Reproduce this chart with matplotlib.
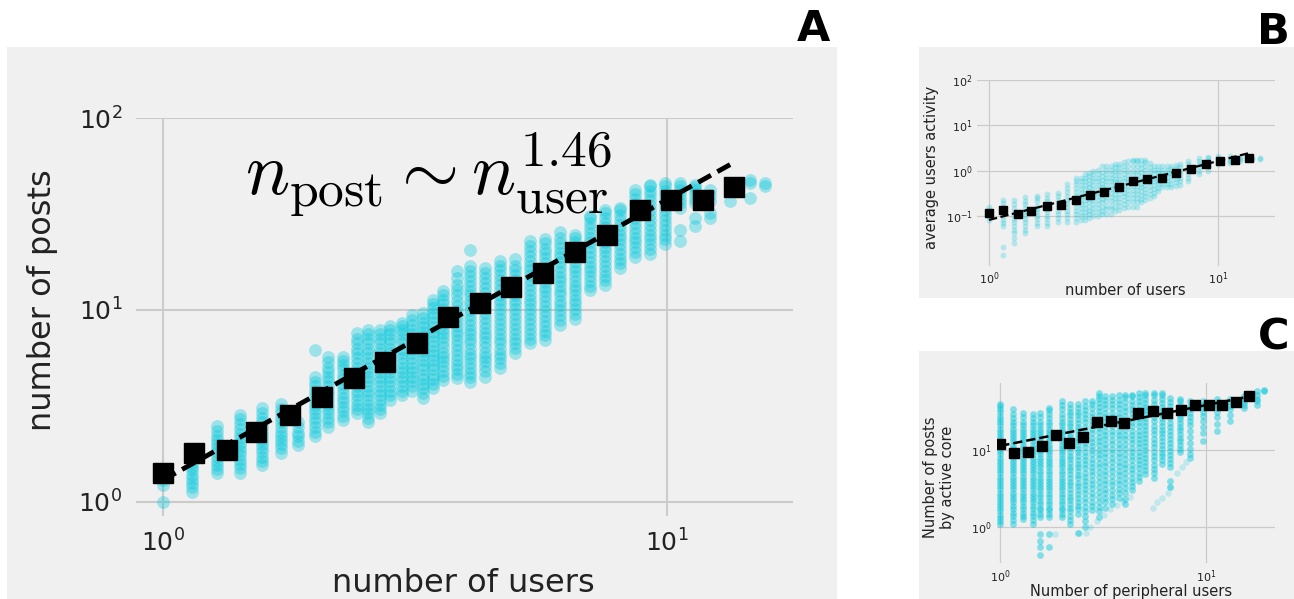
import numpy as np
import matplotlib
matplotlib.use('Agg')
import matplotlib.pyplot as plt
from matplotlib.patches import Rectangle
from matplotlib.ticker import NullLocator

# ---------------- data ----------------
# Panel A: scatter columns (number of users -> number of posts)
a_cols_x = [1.0, 1.142, 1.280, 1.422, 1.572, 1.714, 1.853, 2.002, 2.125, 2.276, 2.427, 2.551,
            2.695, 2.821, 2.980, 3.119, 3.281, 3.434, 3.594, 3.831, 4.065, 4.355, 4.664, 4.994,
            5.348, 5.727, 6.133, 6.568, 7.034, 7.533, 8.067, 8.640, 9.253, 9.909, 10.61, 11.37,
            12.17, 13.34, 14.61, 15.64]
a_cols_y = [
    [1.0, 1.22, 1.3, 1.36],
    [1.13, 1.19, 1.25, 1.32, 1.39, 1.46, 1.53, 1.6],
    [1.42, 1.49, 1.56, 1.64, 1.72, 1.81, 1.9, 2.0, 2.1, 2.2, 2.35, 2.5],
    [1.42, 1.5, 1.58, 1.66, 1.75, 1.84, 1.94, 2.04, 2.15, 2.27, 2.4, 2.55, 2.7, 2.85],
    [1.56, 1.64, 1.72, 1.81, 1.9, 2.0, 2.1, 2.2, 2.32, 2.45, 2.6, 2.75, 2.9, 3.1],
    [1.8, 1.9, 2.0, 2.1, 2.2, 2.32, 2.45, 2.6, 2.75, 2.9, 3.05, 3.25],
    [1.98, 2.08, 2.2, 2.3, 2.45, 2.6],
    [2.2, 2.32, 2.45, 2.6, 2.75, 2.9, 3.05, 3.2, 3.4, 3.6, 3.8, 4.0, 4.2, 4.5, 6.2],
    [2.45, 2.6, 2.75, 2.9, 3.05, 3.2, 3.4, 3.6, 3.8, 4.0, 4.25, 4.5, 4.75, 5.0, 5.35, 5.7],
    [2.67, 2.82, 2.97, 3.13, 3.3, 3.5, 3.7, 3.9, 4.1, 4.35, 4.6, 4.9, 5.2, 5.45, 5.7],
    [2.9, 3.05, 3.2, 3.4, 3.6, 3.8, 4.0, 4.25, 4.5, 4.75, 5.0, 5.3, 5.6, 5.95, 6.3, 6.7, 7.1,
     7.6],
    [2.6, 2.75, 2.9, 3.05, 3.2, 3.4, 3.6, 3.8, 4.0, 4.25, 4.5, 4.75, 5.0, 5.3, 5.6, 5.95, 6.3,
     6.7, 7.1, 7.5, 7.9],
    [2.9, 3.05, 3.2, 3.4, 3.6, 3.8, 4.0, 4.25, 4.5, 4.75, 5.0, 5.3, 5.6, 5.95, 6.3, 6.7, 7.1,
     7.5, 7.9],
    [3.4, 3.6, 3.8, 4.0, 4.25, 4.5, 4.75, 5.0, 5.3, 5.6, 5.95, 6.3, 6.7, 7.1, 7.5, 7.9, 8.3],
    [3.6, 3.8, 4.0, 4.25, 4.5, 4.75, 5.0, 5.3, 5.6, 5.95, 6.3, 6.7, 7.1, 7.5, 7.9, 8.3, 8.6],
    [3.8, 4.0, 4.25, 4.5, 4.75, 5.0, 5.3, 5.6, 5.95, 6.3, 6.7, 7.1, 7.5, 7.9, 8.4, 8.9, 9.4],
    [3.5, 3.7, 3.9, 4.1, 4.35, 4.6, 4.9, 5.2, 5.5, 5.8, 6.1, 6.5, 6.9, 7.3, 7.7, 8.2, 8.6, 9.1,
     9.6],
    [3.9, 4.1, 4.35, 4.6, 4.9, 5.2, 5.5, 5.8, 6.1, 6.5, 6.9, 7.3, 7.7, 8.2, 8.7, 9.2, 9.7,
     10.2, 10.7, 11.3],
    [4.3, 4.55, 4.8, 5.1, 5.4, 5.7, 6.0, 6.4, 6.8, 7.2, 7.6, 8.0, 8.5, 9.0, 9.5, 10.1, 10.7,
     11.3, 11.9, 12.5],
    [4.4, 4.65, 4.9, 5.2, 5.5, 5.8, 6.2, 6.6, 7.0, 7.4, 7.8, 8.3, 8.8, 9.3, 9.9, 10.5, 11.2,
     11.9, 12.7, 13.5, 14.6, 16.0],
    [4.2, 4.45, 4.7, 5.0, 5.3, 5.6, 5.9, 6.3, 6.7, 7.1, 7.5, 7.9, 8.4, 8.9, 9.4, 10.0, 10.6,
     11.2, 11.9, 12.6, 13.3, 14.1, 15.0, 16.0, 17.0, 20.5],
    [4.5, 4.8, 5.1, 5.4, 5.7, 6.0, 6.4, 6.8, 7.2, 7.6, 8.1, 8.6, 9.1, 9.7, 10.3, 10.9, 11.6,
     12.3, 13.0, 13.8, 14.6, 15.5, 16.5],
    [5.0, 5.3, 5.6, 5.9, 6.3, 6.7, 7.1, 7.5, 8.0, 8.5, 9.0, 9.5, 10.1, 10.7, 11.3, 12.0, 12.7,
     13.5, 14.3, 15.2, 16.1, 17.0, 18.0],
    [6.0, 6.35, 6.7, 7.1, 7.5, 8.0, 8.5, 9.0, 9.5, 10.1, 10.7, 11.3, 12.0, 12.7, 13.5, 14.3,
     15.2, 16.1, 17.0, 18.5],
    [6.7, 7.1, 7.5, 8.0, 8.5, 9.0, 9.5, 10.1, 10.7, 11.3, 12.0, 12.7, 13.5, 14.3, 15.2, 16.1,
     17.0, 18.0, 19.1, 20.2, 21.5, 23.0],
    [7.0, 7.4, 7.8, 8.3, 8.8, 9.3, 9.9, 10.5, 11.1, 11.8, 12.5, 13.2, 14.0, 14.8, 15.7, 16.6,
     17.6, 18.6, 19.7, 20.9, 22.2, 23.5],
    [8.4, 8.9, 9.4, 10.0, 10.6, 11.2, 11.9, 12.6, 13.3, 14.1, 14.9, 15.8, 16.7, 17.7, 18.8,
     19.9, 21.1, 22.4, 23.8, 25.5],
    [9.0, 9.5, 10.1, 10.7, 11.3, 12.0, 12.7, 13.4, 14.2, 15.0, 15.9, 16.8, 17.8, 18.9, 20.0,
     21.2, 22.5, 23.8, 24.5],
    [12.7, 13.4, 14.2, 15.0, 15.9, 16.8, 17.8, 18.9, 20.0, 21.2, 22.5, 23.8, 25.2, 26.7, 28.3,
     30.0, 31.0],
    [13.5, 14.3, 15.1, 16.0, 17.0, 18.0, 19.1, 20.2, 21.4, 22.7, 24.0, 25.4, 26.9, 28.5, 30.2,
     32.0, 33.0],
    [16.5, 17.5, 18.5, 19.6, 20.8, 22.0, 23.3, 24.7, 26.2, 27.7, 29.4, 31.1, 33.0, 34.0],
    [18.9, 20.0, 21.2, 22.5, 23.8, 25.2, 26.7, 28.3, 30.0, 31.8, 33.7, 35.7, 37.8, 40.0, 42.0],
    [19.5, 20.7, 22.0, 23.3, 24.7, 26.2, 27.8, 29.5, 31.3, 33.2, 35.2, 37.3, 39.5, 41.9, 44.4,
     45.0],
    [22.0, 23.3, 24.7, 26.2, 27.8, 29.5, 31.3, 33.2, 35.2, 37.3, 39.5, 41.9, 44.4, 46.0],
    [23.0, 26.0, 34.0, 36.0, 38.0, 40.0, 42.0, 44.0, 46.0],
    [27.5, 30.0, 36.0, 38.0, 40.0, 42.0, 43.5, 45.0],
    [30.0, 32.0, 37.0, 39.5, 42.0],
    [37.0],
    [38.3, 45.7, 47.5],
    [45.7, 44.0],
]
# binned averages (shared x bins)
bin_x = [1.0, 1.15, 1.34, 1.53, 1.79, 2.07, 2.39, 2.76, 3.19, 3.68, 4.26, 4.90, 5.69,
         6.57, 7.62, 8.84, 10.2, 11.8, 13.6]
a_bin_y = [1.41, 1.80, 1.87, 2.31, 2.84, 3.52, 4.42, 5.36, 6.7, 9.2, 10.9, 13.2, 15.6,
           20.0, 24.6, 33.2, 37.4, 37.4, 43.7]
a_fit_coef, a_fit_exp = 1.3, 1.46
a_fit_range = [1.0, 13.6]

# Panel B: average users activity
b_cols_x = [1.0, 1.155, 1.286, 1.436, 1.621, 1.798, 2.001, 2.198, 2.399, 2.507, 2.617, 2.735,
            2.855, 2.98, 3.105, 3.25, 3.399, 3.545, 3.695, 3.87, 4.059, 4.23, 4.414, 4.6,
            4.800, 5.02, 5.237, 5.47, 5.712, 5.97, 6.233, 6.52, 6.824, 7.421, 8.206,
            9.013, 10.03, 11.28, 12.48, 14.03, 15.26]
b_cols_y = [
    [0.082, 0.097, 0.114, 0.135, 0.159],
    [0.014, 0.021, 0.059, 0.07, 0.083, 0.098, 0.115, 0.136, 0.16, 0.19, 0.22],
    [0.026, 0.033, 0.042, 0.05, 0.06, 0.072, 0.087, 0.104, 0.125, 0.15, 0.18, 0.22],
    [0.042, 0.05, 0.06, 0.072, 0.087, 0.104, 0.125, 0.15, 0.18, 0.21, 0.26],
    [0.059, 0.07, 0.085, 0.1, 0.12, 0.145, 0.17, 0.21, 0.25, 0.28],
    [0.059, 0.07, 0.085, 0.1, 0.12, 0.145, 0.17, 0.21, 0.25, 0.3],
    [0.075, 0.09, 0.11, 0.13, 0.16, 0.19, 0.23, 0.28, 0.33],
    [0.075, 0.09, 0.11, 0.13, 0.16, 0.19, 0.23, 0.28, 0.34, 0.41, 0.5],
    [0.075, 0.09, 0.11, 0.13, 0.16, 0.19, 0.23, 0.28, 0.34, 0.41, 0.5, 0.6, 0.7],
    [0.08, 0.1, 0.12, 0.15, 0.18, 0.22, 0.27, 0.33, 0.4, 0.48, 0.58, 0.7],
    [0.08, 0.1, 0.12, 0.15, 0.18, 0.22, 0.27, 0.33, 0.4, 0.48, 0.58, 0.7, 0.83],
    [0.09, 0.11, 0.13, 0.16, 0.2, 0.24, 0.29, 0.35, 0.43, 0.52, 0.63, 0.77, 0.9],
    [0.1, 0.12, 0.15, 0.18, 0.22, 0.27, 0.33, 0.4, 0.48, 0.58, 0.7, 0.85, 1.0],
    [0.1, 0.12, 0.15, 0.18, 0.22, 0.27, 0.33, 0.4, 0.48, 0.58, 0.7, 0.85, 1.05],
    [0.11, 0.13, 0.16, 0.2, 0.24, 0.29, 0.35, 0.43, 0.52, 0.63, 0.77, 0.93, 1.25],
    [0.11, 0.14, 0.17, 0.21, 0.26, 0.32, 0.39, 0.48, 0.58, 0.7, 0.85, 1.05, 1.25],
    [0.11, 0.14, 0.17, 0.21, 0.26, 0.32, 0.39, 0.48, 0.58, 0.7, 0.85, 1.05, 1.3],
    [0.13, 0.16, 0.2, 0.25, 0.3, 0.37, 0.45, 0.55, 0.67, 0.82, 1.0, 1.2, 1.4],
    [0.135, 0.165, 0.2, 0.25, 0.3, 0.37, 0.45, 0.55, 0.67, 0.82, 1.0, 1.2, 1.4],
    [0.15, 0.18, 0.22, 0.27, 0.33, 0.4, 0.48, 0.58, 0.7, 0.85, 1.05, 1.3, 1.55],
    [0.16, 0.2, 0.25, 0.3, 0.37, 0.45, 0.55, 0.67, 0.82, 1.0, 1.3, 1.6],
    [0.16, 0.2, 0.25, 0.3, 0.37, 0.45, 0.55, 0.67, 0.82, 1.0, 1.3, 1.6, 1.7],
    [0.16, 0.2, 0.25, 0.3, 0.37, 0.45, 0.55, 0.67, 0.82, 1.0, 1.3, 1.6, 1.76],
    [0.2, 0.24, 0.29, 0.35, 0.43, 0.52, 0.63, 0.77, 0.93, 1.15, 1.4, 1.7],
    [0.22, 0.27, 0.33, 0.4, 0.48, 0.58, 0.7, 0.85, 1.05, 1.3, 1.55, 1.76],
    [0.25, 0.3, 0.37, 0.45, 0.55, 0.67, 0.82, 1.0, 1.2, 1.45],
    [0.27, 0.33, 0.4, 0.48, 0.58, 0.7, 0.85, 1.05, 1.3],
    [0.35, 0.42, 0.5, 0.6, 0.72, 0.87, 1.05, 1.3],
    [0.43, 0.5, 0.6, 0.72, 0.87, 1.05, 1.3],
    [0.43, 0.5, 0.6, 0.72, 0.87, 1.05, 1.25],
    [0.43, 0.52, 0.62, 0.75, 0.9, 1.1, 1.3],
    [0.45, 0.55, 0.66, 0.8, 0.95, 1.15, 1.35],
    [0.48, 0.58, 0.7, 0.85, 1.0, 1.2, 1.4],
    [0.6, 0.7, 0.85, 1.0, 1.2, 1.4, 1.6],
    [0.83, 1.0, 1.2, 1.4, 1.65, 1.9],
    [1.0, 1.2, 1.4, 1.65, 1.9, 2.0],
    [1.37, 1.55, 1.75, 1.95, 2.15],
    [1.45, 1.65, 1.85, 2.1],
    [1.65, 1.85, 2.0],
    [1.8, 1.95],
    [1.85, 1.95],
]
b_bin_y = [0.118, 0.135, 0.110, 0.128, 0.167, 0.173, 0.229, 0.284, 0.335, 0.430, 0.598,
           0.672, 0.706, 0.875, 1.07, 1.42, 1.62, 1.76, 1.91]
b_fit_coef, b_fit_exp = 0.082, 1.30
b_fit_range = [1.0, 13.6]

# Panel C: posts by active core vs peripheral users
c_cols_x = [1.0, 1.148, 1.288, 1.435, 1.563, 1.716, 1.993, 2.186, 2.375, 2.585, 2.785, 3.0,
            3.23, 3.49, 3.76, 4.05, 4.36, 4.70, 5.06, 5.55, 6.09, 6.69, 7.47, 8.37, 9.7,
            11.3, 13.1, 15.2, 17.6, 19.0]
c_cols_y = [
    [1.1, 1.2, 1.32, 1.45, 1.6, 1.75, 1.92, 2.1, 2.3, 2.55, 2.8, 3.1, 3.4, 3.75, 4.1, 4.5, 5.0,
     5.5, 6.0, 6.6, 7.3, 8.0, 8.8, 9.7, 10.7, 11.8, 13, 14.3, 15.7, 17.3, 19, 21, 23, 25.5, 28,
     31, 34, 37.5, 39.4],
    [1.1, 1.25, 1.4, 1.55, 1.7, 1.9, 2.1, 2.3, 2.55, 2.8, 3.1, 3.4, 3.75, 4.1, 4.5, 5.0, 5.5,
     6.0, 6.6, 7.3, 8.0, 8.8, 9.7, 10.7, 11.8, 13, 14.3, 15.7, 17.3, 19, 21, 23, 26, 30, 34],
    [1.28, 1.4, 1.55, 1.7, 1.9, 2.1, 2.3, 2.55, 2.8, 3.1, 3.4, 3.75, 4.1, 4.5, 5.0, 5.5, 6.0,
     6.6, 7.3, 8.0, 8.8, 9.7, 10.7, 11.8, 13, 14.3, 15.7, 17.3, 19, 21, 23.5, 27, 30.7],
    [1.1, 1.25, 1.4, 1.55, 1.7, 1.9, 2.1, 2.3, 2.55, 2.8, 3.1, 3.4, 3.75, 4.1, 4.5, 5.0, 5.5,
     6.0, 6.6, 7.3, 8.0, 8.8, 9.7, 10.7, 11.8, 13, 14.3, 15.7, 17.3, 19, 21, 23.5, 26, 29.2],
    [0.43, 0.55, 0.67, 0.82, 1.35, 1.5, 1.65, 1.8, 2.0, 2.2, 2.45, 2.7, 3.0, 3.3, 3.65, 4.0,
     4.4, 4.9, 5.4, 6.0, 6.6, 7.3, 8.0, 8.8, 9.7, 10.7, 11.8, 13, 14.3, 15.7, 17.3, 19, 21,
     23.5, 27, 30.7],
    [0.55, 0.82, 1.35, 1.5, 1.65, 1.8, 2.0, 2.2, 2.45, 2.7, 3.0, 3.3, 3.65, 4.0, 4.4, 4.9, 5.4,
     6.0, 6.6, 7.3, 8.0, 8.8, 9.7, 10.7, 11.8, 13, 14.3, 15.7, 17.3, 19, 21, 23.5, 26.5, 30,
     33, 35.6],
    [1.35, 1.5, 1.65, 1.8, 2.0, 2.2, 2.45, 2.7, 3.0, 3.3, 3.65, 4.0, 4.4, 4.9, 5.4, 6.0, 6.6,
     7.3, 8.0, 8.8, 9.7, 10.7, 11.8, 13, 14.3, 15.7, 17.3, 19, 21, 23.5, 26.5, 30, 34, 38.5,
     43.5],
    [1.1, 1.25, 1.4, 1.6, 1.8, 2.0, 2.25, 2.5, 2.8, 3.1, 3.5, 3.9, 4.4, 4.9, 5.5, 6.1, 6.8,
     7.6, 8.5, 9.5, 10.6, 11.8, 13.2, 14.7, 16.4, 18.3, 20.4, 22.8, 25.4, 28.3, 31.6, 35.3,
     39.4],
    [0.85, 1.5, 1.7, 1.9, 2.15, 2.4, 2.7, 3.0, 3.4, 3.8, 4.3, 4.8, 5.4, 6.0, 6.7, 7.5, 8.4, 9.4,
     10.5, 11.7, 13.1, 14.6, 16.3, 18.2, 20.3, 22.7, 25.3, 28.3, 31.6, 35.3, 39.4],
    [1.0, 1.22, 1.4, 1.6, 1.85, 2.1, 2.4, 2.75, 3.1, 3.5, 4.0, 4.5, 5.1, 5.8, 6.6, 7.5, 8.5,
     9.6, 10.9, 12.3, 14.0, 15.8, 17.9, 20.3, 23.0, 26.0, 29.5, 33.4, 37.8, 43.0],
    [1.65, 1.9, 2.15, 2.45, 2.8, 3.2, 3.6, 4.1, 4.7, 5.3, 6.0, 6.8, 7.7, 8.8, 10.0, 11.3, 12.8,
     14.5, 16.5, 18.7, 21.2, 24.0, 27.2, 30.8, 35.0, 39.6, 43.0],
    [1.35, 1.6, 1.85, 2.15, 2.5, 2.9, 3.35, 3.9, 4.5, 5.2, 6.0, 6.9, 7.9, 9.0, 10.2, 11.6, 13.2,
     15.0, 17.0, 19.3, 21.9, 24.9, 28.3, 32.1, 36.5, 41.4, 47.0, 51.0, 55.6],
    [1.8, 2.1, 2.4, 2.75, 3.15, 3.6, 4.1, 4.7, 5.4, 6.2, 7.1, 8.1, 9.3, 10.6, 12.1, 13.8, 15.8,
     18.0, 20.6, 23.5, 26.8, 30.6, 35.0, 40.0, 45.0, 50.4],
    [2.0, 2.3, 2.65, 3.05, 3.5, 4.0, 4.6, 5.3, 6.1, 7.0, 8.0, 9.2, 10.5, 12.0, 13.7, 15.7, 18.0,
     20.6, 23.5, 26.8, 30.6, 35.0, 40.0, 45.0, 50.4],
    [2.4, 2.75, 3.15, 3.6, 4.1, 4.7, 5.4, 6.2, 7.1, 8.1, 9.3, 10.6, 12.1, 13.8, 15.8, 18.0,
     20.6, 23.5, 26.8, 30.6, 35.0, 40.0, 45.5, 53.0],
    [2.0, 2.35, 2.75, 3.2, 3.7, 4.3, 5.0, 5.8, 6.7, 7.8, 9.0, 10.4, 12.0, 13.8, 15.9, 18.3,
     21.0, 24.2, 27.8, 32.0, 36.8, 42.3, 48.6, 53.0],
    [3.0, 3.4, 3.9, 4.4, 5.0, 5.7, 6.5, 7.4, 8.4, 9.5, 10.8, 12.3, 14.0, 15.9, 18.0, 20.5,
     23.3, 26.5, 30.1, 34.2, 38.9, 44.2, 50.2, 53.0],
    [4.0, 4.5, 5.1, 5.8, 6.6, 7.5, 8.5, 9.6, 10.9, 12.4, 14.0, 15.9, 18.0, 20.4, 23.1, 26.2,
     29.7, 33.7, 38.2, 43.3, 49.1, 55.6],
    [4.9, 5.5, 6.2, 7.0, 7.9, 8.9, 10.0, 11.3, 12.7, 14.3, 16.1, 18.1, 20.4, 23.0, 25.9, 29.2,
     32.9, 37.0, 41.7, 47.0, 52.9, 55.6],
    [4.4, 5.0, 5.7, 6.5, 7.4, 8.4, 9.6, 10.9, 12.4, 14.1, 16.1, 18.3, 20.8, 23.7, 27.0, 30.7,
     35.0, 39.8, 45.3, 51.6, 55.6],
    [6.6, 7.4, 8.3, 9.3, 10.4, 11.7, 13.1, 14.7, 16.5, 18.5, 20.7, 23.2, 26.0, 29.2, 32.7,
     36.7, 41.1, 46.1, 51.7, 55.6],
    [3.3, 4.0, 6.0, 6.8, 7.7, 8.7, 9.8, 11.1, 12.5, 14.1, 15.9, 18.0, 20.3, 22.9, 25.9, 29.2,
     33.0, 37.3, 42.1, 47.9],
    [9.4, 10.5, 11.7, 13.0, 14.5, 16.2, 18.1, 20.2, 22.5, 25.1, 28.0, 31.2, 34.8, 38.8, 43.3,
     46.0],
    [8.0, 9.0, 10.5, 12.5, 15.0, 18.0, 21.0, 24.0, 27.0, 30.5, 34.0, 38.0, 43.0],
    [13.2, 16.5, 20.0, 24.0, 27.5, 31.0, 35.0, 39.0, 43.0],
    [17.8, 22.0, 27.0, 31.0, 35.0, 38.5, 42.0, 46.0],
    [24.0, 29.0, 34.0, 38.0, 42.0, 46.0],
    [35.6, 38.5, 42.0, 46.0, 50.0],
    [39.0, 43.0, 47.0, 52.0, 58.0],
    [58.0, 61.5],
]
# faint scattered points below the main cloud of panel C
c_out_x = [1.85, 2.4, 2.6, 2.73, 2.95, 3.18, 3.42, 3.68, 3.96, 4.26, 5.5, 5.8, 6.1, 6.5,
           6.7, 7.2, 7.6, 8.0]
c_out_y = [0.82, 0.85, 0.85, 1.0, 1.22, 1.45, 1.7, 1.95, 2.2, 2.5, 1.8, 2.1, 2.4, 2.8,
           3.3, 5.0, 6.0, 7.0]
c_bin_x = [1.0, 1.17, 1.367, 1.59, 1.87, 2.15, 2.52, 2.95, 3.45, 4.01, 4.69, 5.51, 6.44,
           7.54, 8.78, 10.3, 12.0, 13.9, 16.2]
c_bin_y = [11.96, 9.15, 9.51, 11.3, 15.8, 12.6, 14.9, 23.2, 23.9, 22.8, 30.7, 32.3, 30.1,
           32.9, 38.2, 38.2, 38.6, 42.6, 51.4]
c_fit_coef, c_fit_exp = 11.4, 0.53
c_fit_range = [1.0, 16.2]

# ---------------- style ----------------
W, H = 1294, 599
BG = '#f0f0f0'
CYAN = '#00c8dc'
GRID = '#cbcbcb'
TXT = '#222222'

fig = plt.figure(figsize=(W / 100, H / 100), dpi=100)
fig.patch.set_facecolor('white')


def px_rect(l, t, r, b):
    return [l / W, 1 - b / H, (r - l) / W, (b - t) / H]


for (l, t, r, b) in [(7, 47, 837, 599), (919, 47, 1294, 298), (919, 351, 1294, 599)]:
    fig.patches.append(Rectangle((l / W, 1 - b / H), (r - l) / W, (b - t) / H,
                                 transform=fig.transFigure, facecolor=BG,
                                 edgecolor='none', zorder=-5))


def setup(ax, xlim, ylim, xt, yt, lsize, gridlw, pad):
    ax.set_facecolor(BG)
    ax.set_xscale('log')
    ax.set_yscale('log')
    ax.set_xlim(*xlim)
    ax.set_ylim(*ylim)
    ax.set_xticks(xt)
    ax.set_yticks(yt)
    ax.xaxis.set_minor_locator(NullLocator())
    ax.yaxis.set_minor_locator(NullLocator())
    for s in ax.spines.values():
        s.set_visible(False)
    ax.grid(True, color=GRID, lw=gridlw)
    ax.set_axisbelow(True)
    ax.tick_params(length=0, pad=pad, labelsize=lsize, labelcolor=TXT)


def scatter_cols(ax, xs, ys, size, alpha):
    px, py = [], []
    for x, col in zip(xs, ys):
        px.extend([x] * len(col))
        py.extend(col)
    ax.scatter(px, py, s=size, color=CYAN, alpha=alpha, linewidths=0, zorder=2)


# ---- Panel A ----
axA = fig.add_axes(px_rect(136, 118, 793, 516))
setup(axA, (0.884, 17.8), (0.845, 100), [1, 10], [1, 10, 100], 18, 1.5, 10)
scatter_cols(axA, a_cols_x, a_cols_y, 85, 0.35)
fx = np.array(a_fit_range)
axA.plot(fx, a_fit_coef * fx ** a_fit_exp, ls='--', color='k', lw=3.5, zorder=3,
         dashes=(3, 1.5))
axA.plot(bin_x, a_bin_y, 's', color='k', ms=14.5, zorder=4)
axA.text(1.455, 39.7, r'$n_{\rm post} \sim n_{\rm user}^{1.46}$', fontsize=53,
         math_fontfamily='cm', ha='left', va='baseline', zorder=5)
axA.set_xlabel('number of users', fontsize=23, color=TXT)
axA.set_ylabel('number of posts', fontsize=23, color=TXT)
axA.xaxis.set_label_coords(0.499, -0.13)
axA.yaxis.set_label_coords(-0.118, 0.543)

# ---- Panel B ----
axB = fig.add_axes(px_rect(977, 80, 1275, 266))
setup(axB, (0.886, 17.7), (0.0079, 100), [1, 10], [0.1, 1, 10, 100], 8, 0.9, 3)
scatter_cols(axB, b_cols_x, b_cols_y, 18, 0.25)
fx = np.array(b_fit_range)
axB.plot(fx, b_fit_coef * fx ** b_fit_exp, ls='--', color='k', lw=1.6, zorder=3)
axB.plot(bin_x, b_bin_y, 's', color='k', ms=6, zorder=4)
axB.set_xlabel('number of users', fontsize=10.5, color=TXT)
axB.set_ylabel('average users activity', fontsize=10.5, color=TXT)
axB.xaxis.set_label_coords(0.497, -0.09)
axB.yaxis.set_label_coords(-0.127, 0.532)

# ---- Panel C ----
axC = fig.add_axes(px_rect(997, 383, 1275, 563))
setup(axC, (0.964, 21.6), (0.342, 74.8), [1, 10], [1, 10], 8, 0.9, 4)
scatter_cols(axC, c_cols_x, c_cols_y, 24, 0.45)
axC.scatter(c_out_x, c_out_y, s=22, color=CYAN, alpha=0.2, linewidths=0, zorder=2)
fx = np.array(c_fit_range)
axC.plot(fx, c_fit_coef * fx ** c_fit_exp, ls='--', color='k', lw=1.8, zorder=3)
axC.plot(c_bin_x, c_bin_y, 's', color='k', ms=6.5, zorder=4)
axC.set_xlabel('Number of peripheral users', fontsize=10.5, color=TXT)
axC.set_ylabel('Number of posts\nby active core', fontsize=10.5, color=TXT)
axC.xaxis.set_label_coords(0.482, -0.115)
axC.yaxis.set_label_coords(-0.151, 0.478)

# panel letters
for letter, x, y in [('A', 830, 8), ('B', 1290, 11), ('C', 1290, 316)]:
    fig.text(x / W, 1 - y / H, letter, ha='right', va='top', fontsize=31,
             fontweight='bold', color='black')

fig.savefig('out.png', dpi=100, facecolor='white')
